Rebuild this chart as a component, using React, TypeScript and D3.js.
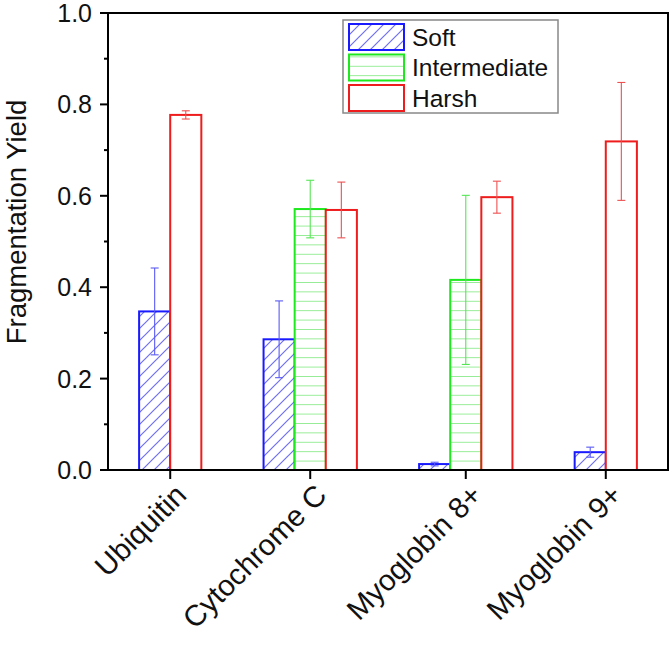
import React from "react";
import * as d3 from "d3";

const categories = ["Ubiquitin", "Cytochrome C", "Myoglobin 8+", "Myoglobin 9+"];
const seriesNames = ["Soft", "Intermediate", "Harsh"];
const softValues = [0.347, 0.286, 0.013, 0.039];
const softErrors = [0.095, 0.084, 0.004, 0.011];
const intermediateValues: (number | null)[] = [null, 0.571, 0.416, null];
const intermediateErrors: (number | null)[] = [null, 0.063, 0.185, null];
const harshValues = [0.777, 0.569, 0.597, 0.719];
const harshErrors = [0.009, 0.061, 0.035, 0.129];
const yTicks = [0, 0.2, 0.4, 0.6, 0.8, 1.0];
const yMinorTicks = [0.1, 0.3, 0.5, 0.7, 0.9];

const W = 672;
const H = 649;
const left = 108;
const right = 668;
const top = 13;
const bottom = 470;

const strokeColors = ["#1a1aff", "#1ee81e", "#ee1c1c"];
const errColors = ["#5a5af5", "#55e655", "#ee5050"];
const fillIds = ["url(#hatchSoft)", "url(#hatchInter)", "white"];

type Bar = { cat: number; s: number; v: number; e: number; slot: number };

function layout() {
  const vals = [softValues, intermediateValues, harshValues];
  const errs = [softErrors, intermediateErrors, harshErrors];
  const bars: Bar[] = [];
  const centers: number[] = [];
  let slot = 1;
  categories.forEach((_, c) => {
    const start = slot;
    vals.forEach((arr, s) => {
      const v = arr[c];
      if (v !== null && v !== undefined) {
        bars.push({ cat: c, s, v: v as number, e: (errs[s][c] as number) || 0, slot });
        slot += 1;
      }
    });
    centers.push((start + slot) / 2);
    slot += 2;
  });
  const totalSlots = slot - 1;
  return { bars, centers, totalSlots };
}

export default function App() {
  const { bars, centers, totalSlots } = layout();
  const x = d3.scaleLinear().domain([0, totalSlots]).range([left, right]);
  const y = d3.scaleLinear().domain([0, 1]).range([bottom, top]);
  const font = "'Liberation Sans', Arial, sans-serif";
  const legendX = 343;
  const legendY = 20;

  return (
    <svg
      width={W}
      height={H}
      style={{ position: "absolute", left: 0, top: 0, background: "white" }}
      fontFamily={font}
    >
      <defs>
        <pattern id="hatchSoft" patternUnits="userSpaceOnUse" width={12} height={12}>
          <rect width={12} height={12} fill="white" />
          <path d="M0,12 L12,0 M-3,3 L3,-3 M9,15 L15,9" stroke="#7070f2" strokeWidth={1.2} />
        </pattern>
        <pattern id="hatchInter" patternUnits="userSpaceOnUse" width={10} height={9.4} y={bottom}>
          <rect width={10} height={9.4} fill="white" />
          <line x1={0} x2={10} y1={0} y2={0} stroke="#6fe66f" strokeWidth={1.4} />
        </pattern>
      </defs>

      {/* bars */}
      {bars.map((b, i) => (
        <rect
          key={"b" + i}
          x={x(b.slot)}
          y={y(b.v)}
          width={x(b.slot + 1) - x(b.slot)}
          height={y(0) - y(b.v)}
          fill={fillIds[b.s]}
          stroke={strokeColors[b.s]}
          strokeWidth={2}
        />
      ))}

      {/* error bars */}
      {bars.map((b, i) => {
        const cx = x(b.slot + 0.5);
        const y1 = y(b.v + b.e);
        const y2 = y(b.v - b.e);
        return (
          <g key={"e" + i} stroke={errColors[b.s]} strokeWidth={1.1}>
            <line x1={cx} x2={cx} y1={y1} y2={y2} />
            <line x1={cx - 4} x2={cx + 4} y1={y1} y2={y1} />
            <line x1={cx - 4} x2={cx + 4} y1={y2} y2={y2} />
          </g>
        );
      })}

      {/* frame */}
      <rect x={left} y={top} width={right - left} height={bottom - top} fill="none" stroke="black" strokeWidth={2} />

      {/* y ticks */}
      {yTicks.map((t) => (
        <g key={"yt" + t}>
          <line x1={left - 8} x2={left} y1={y(t)} y2={y(t)} stroke="black" strokeWidth={2} />
          <text x={left - 16} y={y(t)} dy="0.36em" textAnchor="end" fontSize={25} fill="#111">
            {t.toFixed(1)}
          </text>
        </g>
      ))}
      {yMinorTicks.map((t) => (
        <line key={"ym" + t} x1={left - 4} x2={left} y1={y(t)} y2={y(t)} stroke="black" strokeWidth={2} />
      ))}

      {/* x ticks and labels */}
      {categories.map((c, i) => {
        const cx = x(centers[i]);
        return (
          <g key={"xt" + i}>
            <line x1={cx} x2={cx} y1={bottom} y2={bottom + 9} stroke="black" strokeWidth={2} />
            <text
              transform={`translate(${cx + 18},${bottom + 27}) rotate(-45)`}
              textAnchor="end"
              fontSize={29.5}
              fill="#111"
            >
              {c}
            </text>
          </g>
        );
      })}

      {/* y title */}
      <text
        transform={`translate(26,222) rotate(-90)`}
        textAnchor="middle"
        fontSize={27.5}
        fill="#111"
      >
        Fragmentation Yield
      </text>

      {/* legend */}
      <rect x={legendX} y={legendY} width={215} height={93} fill="white" stroke="#888" strokeWidth={1.5} />
      {seriesNames.map((s, i) => {
        const ry = legendY + 4 + i * 30.5;
        return (
          <g key={"lg" + s}>
            <rect
              x={legendX + 6}
              y={ry}
              width={55}
              height={26}
              fill={fillIds[i]}
              stroke={strokeColors[i]}
              strokeWidth={2}
            />
            <text x={legendX + 69} y={ry + 13} dy="0.36em" fontSize={24.5} fill="#111">
              {s}
            </text>
          </g>
        );
      })}
    </svg>
  );
}
